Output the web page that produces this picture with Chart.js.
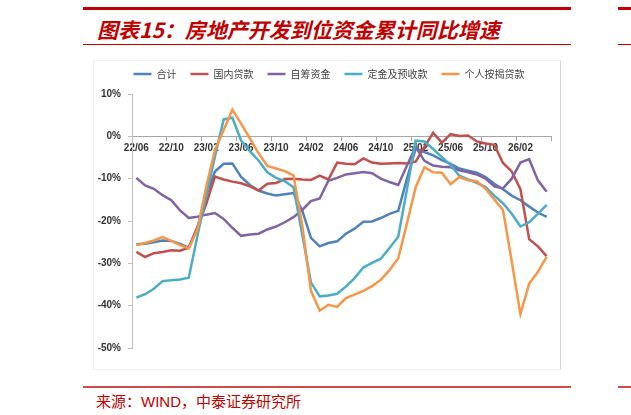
<!DOCTYPE html>
<html lang="zh-CN">
<head>
    <meta charset="UTF-8">
    <title>房地产开发到位资金累计同比增速</title>
    <script src="https://cdn.jsdelivr.net/npm/chart.js"></script>
    <style>
        body {
            margin: 0;
            width: 631px;
            height: 415px;
            position: relative;
            overflow: hidden;
            background: #fff;
            font-family: "Noto Sans CJK SC", sans-serif;
        }
        .rule { position: absolute; background: #c00000; }
        .title {
            position: absolute;
            left: 97px;
            top: 19px;
            font-size: 21px;
            line-height: 21px;
            font-weight: bold;
            font-style: italic;
            color: #c00000;
            white-space: nowrap;
        }
        .source {
            position: absolute;
            left: 96px;
            top: 393px;
            font-size: 15px;
            line-height: 15px;
            color: #c00000;
            white-space: nowrap;
        }
        .source .latin { font-family: "Liberation Sans", Arial, sans-serif; }
        .frame {
            position: absolute;
            left: 93px;
            top: 60px;
            width: 466px;
            height: 308px;
            border: 1px solid #f2f2f2;
            border-right-color: #d4d4d4;
        }
        #fundChart { position: absolute; left: 93px; top: 55px; }
    </style>
</head>
<body>
    <div class="rule" style="left:83px; top:7px; width:488px; height:3px;"></div>
    <div class="rule" style="left:618px; top:7px; width:13px; height:3px;"></div>
    <div class="title">图表15：房地产开发到位资金累计同比增速</div>
    <div class="rule" style="left:83px; top:44px; width:488px; height:1px;"></div>
    <div class="rule" style="left:618px; top:44px; width:13px; height:1px;"></div>

    <div class="frame"></div>
    <canvas id="fundChart" width="467" height="315"></canvas>

    <div class="rule" style="left:83px; top:386px; width:488px; height:2px; background:#d24a4a;"></div>
    <div class="rule" style="left:618px; top:386px; width:13px; height:2px; background:#d24a4a;"></div>
    <div class="source">来源：<span class="latin">WIND</span>，中泰证券研究所</div>

    <script>
        // months, 22/06 .. 26/05
        const months = [
            '22/06', '22/07', '22/08', '22/09', '22/10', '22/11', '22/12',
            '23/01', '23/02', '23/03', '23/04', '23/05', '23/06', '23/07', '23/08', '23/09', '23/10', '23/11', '23/12',
            '24/01', '24/02', '24/03', '24/04', '24/05', '24/06', '24/07', '24/08', '24/09', '24/10', '24/11', '24/12',
            '25/01', '25/02', '25/03', '25/04', '25/05', '25/06', '25/07', '25/08', '25/09', '25/10', '25/11', '25/12',
            '26/01', '26/02', '26/03', '26/04', '26/05'
        ];

        // 累计同比, %
        const total = [-25.5, -25.4, -25.0, -24.6, -24.7, -25.4, -26.3, -21.5, -14.0, -8.3,
            -6.5, -6.4, -9.6, -11.5, -12.8, -13.5, -14.0, -13.7, -13.4, -17.5,
            -24.0, -26.0, -25.2, -24.8, -23.0, -21.8, -20.2, -20.1, -19.3, -18.3,
            -17.6, -10.0, -2.9, -3.7, -4.5, -5.6, -6.5, -7.6, -8.1, -8.6,
            -9.6, -11.2, -12.5, -14.0, -15.1, -16.6, -18.0, -19.0];
        const domesticLoans = [-27.3, -28.5, -27.6, -27.3, -26.9, -27.0, -26.3, -21.5, -16.0, -9.5,
            -10.2, -10.7, -11.1, -11.8, -12.8, -11.2, -11.0, -10.1, -10.0, -10.2,
            -10.3, -9.3, -10.2, -6.2, -6.5, -6.6, -5.2, -6.2, -6.5, -6.4,
            -6.3, -6.4, -6.0, -2.5, 0.8, -1.5, 0.5, 0.1, 0.2, -1.2,
            -1.7, -2.0, -6.3, -8.3, -12.5, -24.3, -26.0, -28.3];
        const selfRaised = [-9.8, -11.6, -12.4, -13.9, -15.1, -17.5, -19.3, -19.0, -18.5, -18.1,
            -19.5, -21.6, -23.5, -23.2, -23.0, -22.0, -21.3, -20.3, -19.1, -17.4,
            -15.3, -14.7, -10.5, -9.8, -9.0, -8.7, -8.4, -8.7, -10.0, -10.8,
            -11.5, -6.9, -2.5, -5.8, -6.9, -7.2, -7.3, -8.0, -8.5, -9.0,
            -10.0, -11.8, -12.3, -10.0, -6.2, -5.4, -10.4, -13.1];
        const deposits = [-38.1, -37.3, -36.0, -34.2, -34.0, -33.8, -33.4, -23.5, -14.0, -4.8,
            4.0, 4.4, -1.0, -3.5, -5.7, -8.5, -9.8, -10.6, -12.0, -23.2,
            -34.5, -37.8, -37.6, -37.2, -35.5, -33.5, -31.0, -29.9, -28.9, -26.4,
            -23.7, -12.5, -1.0, -1.2, -3.0, -4.9, -6.8, -9.3, -10.2, -11.0,
            -12.0, -14.0, -15.8, -18.3, -21.3, -20.3, -18.3, -16.2];
        const mortgages = [-25.7, -25.2, -24.6, -23.8, -24.7, -25.7, -26.5, -22.0, -12.0, -3.3,
            1.5, 6.3, 3.0, -0.5, -4.0, -7.0, -7.6, -8.2, -9.2, -21.0,
            -36.5, -41.2, -39.8, -40.3, -38.2, -37.4, -36.5, -35.4, -33.9, -31.6,
            -28.8, -20.5, -12.0, -7.3, -8.5, -8.6, -11.3, -9.6, -10.4, -10.6,
            -12.4, -14.9, -17.4, -29.5, -42.0, -34.8, -32.0, -28.5];

        const seriesNames = ['合计', '国内贷款', '自筹资金', '定金及预收款', '个人按揭贷款'];
        const seriesData = [total, domesticLoans, selfRaised, deposits, mortgages];
        const seriesColors = ['#4f81bd', '#c0504d', '#8064a2', '#4bacc6', '#f79646'];

        const labelEvery = 4;
        const axisFont = { family: 'Liberation Sans', size: 10, weight: 'bold' };

        // legend sits a bit lower and further right than Chart.js puts it
        const legendPlacement = {
            id: 'legendPlacement',
            afterInit(chart) {
                const legend = chart.legend;
                const fit = legend.fit;
                legend.fit = function () {
                    fit.call(this);
                    this.height = 39;
                };
                const draw = legend.draw;
                legend.draw = function (area) {
                    this.ctx.save();
                    this.ctx.translate(7, 0);
                    draw.call(this, area);
                    this.ctx.restore();
                };
            }
        };

        const ctx = document.getElementById('fundChart').getContext('2d');

        new Chart(ctx, {
            type: 'line',
            data: {
                labels: months,
                datasets: seriesNames.map((name, i) => ({
                    label: name,
                    data: seriesData[i],
                    borderColor: seriesColors[i],
                    backgroundColor: seriesColors[i],
                    borderWidth: 2.5,
                    pointRadius: 0,
                    pointBorderWidth: 2.5,
                    pointBorderColor: seriesColors[i],
                    tension: 0,
                    fill: false,
                    order: seriesNames.length - 1 - i
                }))
            },
            options: {
                responsive: false,
                animation: false,
                layout: { padding: { left: 0, right: 9, top: 0, bottom: 22 } },
                plugins: {
                    legend: {
                        position: 'top',
                        labels: {
                            usePointStyle: true,
                            pointStyle: 'line',
                            pointStyleWidth: 18,
                            padding: 14,
                            color: '#404040',
                            font: { family: 'Noto Sans CJK SC', size: 10 },
                            sort: (a, b) => a.datasetIndex - b.datasetIndex
                        }
                    },
                    tooltip: { enabled: false }
                },
                scales: {
                    x: {
                        type: 'category',
                        position: { y: 0 },
                        offset: true,
                        grid: {
                            offset: true,
                            drawOnChartArea: false,
                            tickLength: 4,
                            color: (c) => (c.index === undefined || c.index % labelEvery === 0) ? '#a6a6a6' : 'rgba(0,0,0,0)'
                        },
                        border: { color: '#a6a6a6' },
                        ticks: {
                            autoSkip: false,
                            maxRotation: 0,
                            padding: 2,
                            color: '#333',
                            font: axisFont,
                            callback: (value, index) => index % labelEvery === 0 ? months[index] : ''
                        }
                    },
                    y: {
                        min: -50,
                        max: 10,
                        afterFit: (scale) => { scale.width = 39; },
                        grid: { drawOnChartArea: false, tickLength: 4, color: '#bfbfbf' },
                        border: { color: '#bfbfbf' },
                        ticks: {
                            stepSize: 10,
                            padding: 7,
                            color: '#333',
                            font: axisFont,
                            callback: (value) => value + '%'
                        }
                    }
                }
            },
            plugins: [legendPlacement]
        });
    </script>
</body>
</html>
